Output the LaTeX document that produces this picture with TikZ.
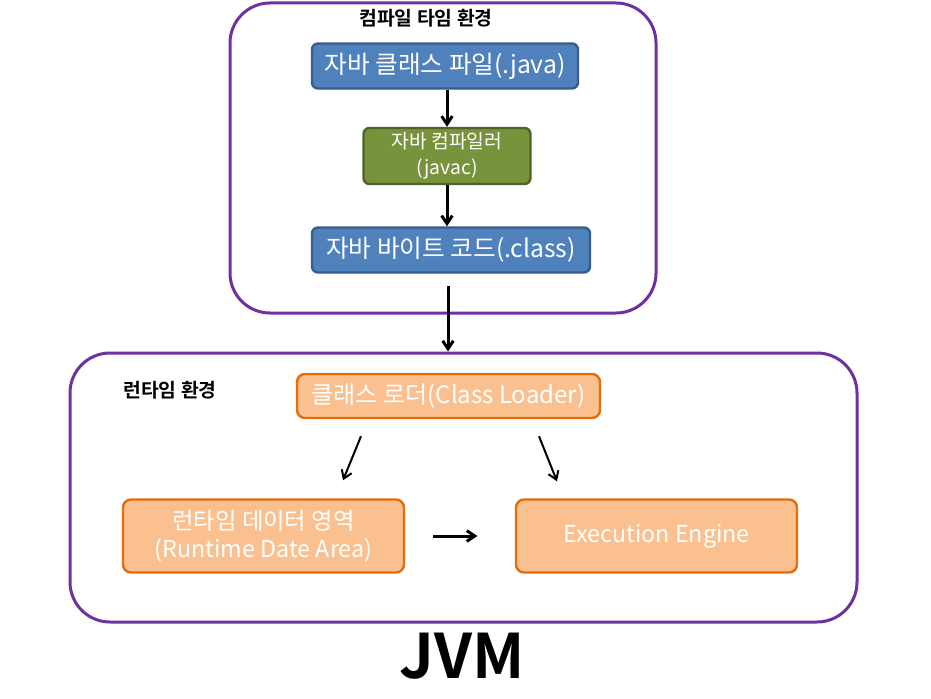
\documentclass[tikz,border=0pt]{standalone}
\usepackage{fontspec}
\setmainfont{Noto Sans CJK KR}[BoldFont={Noto Sans CJK KR Bold}]
\usetikzlibrary{arrows.meta,calc}
\definecolor{envC}{HTML}{7030A0}
\definecolor{blueF}{HTML}{4F81BD}
\definecolor{blueD}{HTML}{385D8A}
\definecolor{greenF}{HTML}{77933C}
\definecolor{greenD}{HTML}{4F6228}
\definecolor{orangeF}{HTML}{FAC090}
\definecolor{orangeD}{HTML}{E46C0A}
\begin{document}
\begin{tikzpicture}[x=0.75pt,y=-0.75pt,>={Straight Barb[length=6pt,width=8pt]},
  envbox/.style={draw=envC,line width=2.25pt,rounded corners=30pt,inner sep=0pt},
  bluebox/.style={draw=blueD,fill=blueF,line width=1.8pt,rounded corners=4.5pt,
    text=white,font=\fontsize{18.5}{20}\selectfont,minimum height=33.75pt,inner sep=0pt},
  greenbox/.style={draw=greenD,fill=greenF,line width=1.8pt,rounded corners=4.5pt,
    text=white,font=\fontsize{14.5}{19.5}\selectfont,align=center,
    minimum width=125.25pt,minimum height=42pt,inner sep=0pt},
  orangebox/.style={draw=orangeD,fill=orangeF,line width=1.8pt,rounded corners=6pt,
    text=white,align=center,inner sep=0pt},
  envtitle/.style={font=\bfseries\fontsize{14.5}{16}\selectfont},
  flow/.style={->,line width=2.25pt},
  thin flow/.style={->,line width=1.5pt}]
\useasboundingbox (0,0) rectangle (931,699);
% Compile-time environment
\node[envbox,minimum width=319.5pt,minimum height=232.5pt] (compenv) at (443,158) {};
\node[envtitle] (comptitle) at (426,18) {컴파일 타임 환경};
\node[bluebox,minimum width=199.5pt] (java) at (445,66) {자바 클래스 파일(.java)};
\node[greenbox] (javac) at (447,156) {자바 컴파일러\\(javac)};
\node[bluebox,minimum width=208.5pt] (bytecode) at (451,250) {자바 바이트 코드(.class)};
\draw[flow] (javac.north |- java.south) -- (javac.north);
\draw[flow] (javac.south) -- (javac.south |- bytecode.north);
% Runtime environment
\node[envbox,minimum width=590.25pt,minimum height=201.75pt] (rtenv) at (463.5,487.5) {};
\node[envtitle] (rttitle) at (170,390) {런타임 환경};
\node[orangebox,font=\fontsize{18}{20}\selectfont,minimum width=227.25pt,
  minimum height=33pt] (loader) at (448.5,396) {클래스 로더(Class Loader)};
\node[orangebox,font=\fontsize{17.5}{21}\selectfont,minimum width=210.75pt,
  minimum height=54.75pt] (rda) at (263.5,536) {런타임 데이터 영역\\(Runtime Date Area)};
\node[orangebox,font=\fontsize{17.5}{21}\selectfont,minimum width=210.75pt,
  minimum height=54.75pt] (engine) at (656.5,536) {Execution Engine};
\coordinate (bcout) at ($(bytecode.south)+(-3,12)$);
\draw[flow] (bcout) -- (bcout |- rtenv.north);
\draw[thin flow] ($(loader.south)+(-87.5,17)$) -- ($(rda.north)+(79.5,-18)$);
\draw[thin flow] ($(loader.south)+(90.5,17)$) -- ($(engine.north)+(-99.5,-17)$);
\draw[flow,shorten <=21pt,shorten >=28pt] (rda) -- (engine);
% JVM label
\node[font=\bfseries\fontsize{46}{56}\selectfont] (jvm) at (462,656) {JVM};
\end{tikzpicture}
\end{document}
